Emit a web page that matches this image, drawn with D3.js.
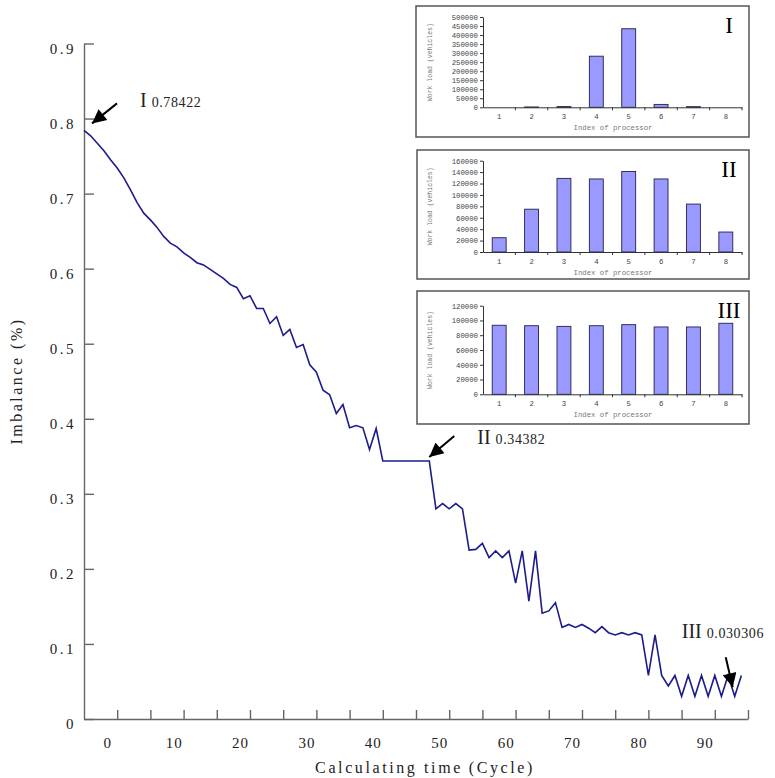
<!DOCTYPE html>
<html>
<head>
<meta charset="utf-8">
<script src="https://cdn.jsdelivr.net/npm/d3@7"></script>
<style>
  body { margin: 0; background: #fff; }
  svg { display: block; }
  text { font-family: "Liberation Serif", "DejaVu Serif", serif; fill: #222; }
  .mono { font-family: "Liberation Mono", "DejaVu Sans Mono", monospace; }
</style>
</head>
<body>
<svg id="chart" width="775" height="778"></svg>
<script>

// Imbalance of the load, one value per calculating cycle

const imbalance = [
  0.78422, 0.777, 0.767, 0.757, 0.745, 0.734, 0.721, 0.705, 0.688, 0.674,
  0.665, 0.655, 0.643, 0.634, 0.629, 0.621, 0.615, 0.608, 0.605, 0.599,
  0.593, 0.587, 0.579, 0.575, 0.560, 0.564, 0.547, 0.547, 0.527, 0.536,
  0.511, 0.519, 0.495, 0.499, 0.472, 0.462, 0.438, 0.432, 0.407, 0.419,
  0.388, 0.391, 0.388, 0.359, 0.387, 0.34382, 0.34382, 0.34382, 0.34382, 0.34382,
  0.34382, 0.34382, 0.34382, 0.280, 0.287, 0.280, 0.287, 0.280, 0.225, 0.226,
  0.234, 0.215, 0.224, 0.215, 0.224, 0.181, 0.224, 0.157, 0.224, 0.141,
  0.144, 0.155, 0.122, 0.126, 0.122, 0.126, 0.121, 0.115, 0.123, 0.115,
  0.112, 0.115, 0.112, 0.115, 0.112, 0.058, 0.112, 0.058, 0.044, 0.058,
  0.030306, 0.058, 0.030306, 0.058, 0.030306, 0.058, 0.030306, 0.058, 0.030306, 0.058
];

const yTicks = [0, 0.1, 0.2, 0.3, 0.4, 0.5, 0.6, 0.7, 0.8, 0.9];
const xTickLabels = [0, 10, 20, 30, 40, 50, 60, 70, 80, 90];

// The three marked moments
const markNames = ["I", "II", "III"];
const markIndex = [0, 52, 98];
const markText = ["0.78422", "0.34382", "0.030306"];

// Work load per processor at each marked moment
const processors = [1, 2, 3, 4, 5, 6, 7, 8];
const loadI = [0, 2000, 4000, 283000, 435000, 16000, 3500, 0];
const loadII = [25000, 75000, 129000, 128000, 141000, 128000, 84000, 35000];
const loadIII = [93500, 92900, 92000, 92900, 94300, 91200, 91200, 96200];
const ticksI = [0, 50000, 100000, 150000, 200000, 250000, 300000, 350000, 400000, 450000, 500000];
const ticksII = [0, 20000, 40000, 60000, 80000, 100000, 120000, 140000, 160000];
const ticksIII = [0, 20000, 40000, 60000, 80000, 100000, 120000];

const svg = d3.select("#chart");

const x = d3.scaleLinear().domain([0, 100]).range([84, 748]);
const xCycle = d3.scaleLinear().domain([-3.5, 96.5]).range([84, 748]);
const y = d3.scaleLinear().domain([0, 0.9]).range([719, 43.5]);

// Axes

const yAxisG = svg.append("g")
  .attr("transform", "translate(84,0)")
  .call(d3.axisRight(y).tickValues(yTicks).tickSize(10).tickSizeOuter(0).tickFormat(""));

const yLabelG = svg.append("g")
  .attr("transform", "translate(84,0)")
  .call(d3.axisLeft(y).tickValues(yTicks).tickSize(0).tickPadding(8)
    .tickFormat(d => d === 0 ? "0" : d3.format(".1f")(d)));
yLabelG.select(".domain").remove();
yLabelG.selectAll("text")
  .attr("dy", 9.5)
  .style("font-size", "15px")
  .style("letter-spacing", "2.5px");

const xAxisG = svg.append("g")
  .attr("transform", "translate(0,719)")
  .call(d3.axisTop(x).tickValues(d3.range(5, 101, 5)).tickSize(9).tickSizeOuter(0).tickFormat(""));

const xLabelG = svg.append("g")
  .attr("transform", "translate(0,719)")
  .call(d3.axisBottom(xCycle).tickValues(xTickLabels).tickSize(0));
xLabelG.select(".domain").remove();
xLabelG.selectAll("text")
  .attr("y", 29)
  .attr("dy", 0)
  .style("font-size", "15px")
  .style("letter-spacing", "1px");

svg.selectAll(".domain, .tick line")
  .attr("stroke", "#666")
  .attr("stroke-width", 1.4);

svg.append("text")
  .attr("transform", "translate(22,381) rotate(-90)")
  .attr("text-anchor", "middle")
  .style("font-size", "16px")
  .style("letter-spacing", "2.5px")
  .text("Imbalance (%)");

svg.append("text")
  .attr("x", 425)
  .attr("y", 773)
  .attr("text-anchor", "middle")
  .style("font-size", "16px")
  .style("letter-spacing", "2.6px")
  .text("Calculating time\u2009(Cycle)");

// The line

const line = d3.line()
  .x((d, i) => x(i))
  .y(d => y(d));

svg.append("path")
  .datum(imbalance)
  .attr("fill", "none")
  .attr("stroke", "#1c1c8c")
  .attr("stroke-width", 1.6)
  .attr("stroke-linejoin", "miter")
  .attr("d", line);

// Arrows pointing at the marked moments

svg.append("defs").append("marker")
  .attr("id", "head")
  .attr("viewBox", "0 0 10 10")
  .attr("refX", 10)
  .attr("refY", 5)
  .attr("markerWidth", 8)
  .attr("markerHeight", 7)
  .attr("markerUnits", "strokeWidth")
  .attr("orient", "auto")
  .append("path")
  .attr("d", "M0,0 L10,5 L0,10 Z")
  .attr("fill", "#000");

// arrow start / tip offsets and label spots, relative to the marked point
const arrowFrom = [[33, -27], [25, -25], [-9, -39]];
const arrowTo = [[8, -7], [0, -4], [-2, -9]];
const labelAt = [[56, -23], [48, -17], [-53, -58]];

markNames.forEach((name, k) => {

  const px = x(markIndex[k]);
  const py = y(imbalance[markIndex[k]]);

  svg.append("line")
    .attr("x1", px + arrowFrom[k][0])
    .attr("y1", py + arrowFrom[k][1])
    .attr("x2", px + arrowTo[k][0])
    .attr("y2", py + arrowTo[k][1])
    .attr("stroke", "#000")
    .attr("stroke-width", 2)
    .attr("marker-end", "url(#head)");

  const t = svg.append("text")
    .attr("x", px + labelAt[k][0])
    .attr("y", py + labelAt[k][1]);

  t.append("tspan")
    .style("font-size", "20px")
    .text(name);

  t.append("tspan")
    .attr("dx", 5)
    .style("font-size", "14px")
    .style("letter-spacing", "0.6px")
    .text(markText[k]);
});

// Inset bar charts

const insetBoxes = [
  {x: 416, y: 6, w: 333, h: 131, top: 17, bottom: 107.3},
  {x: 417, y: 150, w: 332, h: 129, top: 160.7, bottom: 252},
  {x: 417, y: 291, w: 332, h: 133, top: 305.7, bottom: 394.3}
];

function drawInset(box, loads, ticks, name) {

  const g = svg.append("g");

  g.append("rect")
    .attr("x", box.x)
    .attr("y", box.y)
    .attr("width", box.w)
    .attr("height", box.h)
    .attr("fill", "#fff")
    .attr("stroke", "#555")
    .attr("stroke-width", 1.5);

  const xb = d3.scaleBand()
    .domain(processors)
    .range([483, 742])
    .paddingInner(0.57)
    .paddingOuter(0.285);

  const yb = d3.scaleLinear()
    .domain([0, ticks[ticks.length - 1]])
    .range([box.bottom, box.top]);

  g.selectAll(".bar")
    .data(loads)
    .enter()
    .append("rect")
    .attr("x", (d, i) => xb(processors[i]))
    .attr("y", d => yb(d))
    .attr("width", xb.bandwidth())
    .attr("height", d => yb(0) - yb(d))
    .attr("fill", "#9999ff")
    .attr("stroke", "#22224a")
    .attr("stroke-width", 0.9);

  const ya = g.append("g")
    .attr("transform", "translate(483,0)")
    .call(d3.axisLeft(yb).tickValues(ticks).tickSize(3).tickSizeOuter(0).tickPadding(2)
      .tickFormat(d3.format("d")));
  ya.selectAll("text")
    .attr("class", "mono")
    .style("font-size", "7.3px")
    .style("fill", "#444");

  // x axis with ticks between the processors
  const xa = g.append("g")
    .attr("transform", "translate(0," + box.bottom + ")")
    .call(d3.axisBottom(xb).tickSize(0).tickPadding(7).tickSizeOuter(0));
  xa.selectAll("text")
    .attr("class", "mono")
    .style("font-size", "7.3px")
    .style("fill", "#444");

  xa.selectAll(".sep")
    .data(processors)
    .enter()
    .append("line")
    .attr("x1", d => xb(d) + xb.bandwidth() / 2 + xb.step() / 2)
    .attr("x2", d => xb(d) + xb.bandwidth() / 2 + xb.step() / 2)
    .attr("y1", 0)
    .attr("y2", 3)
    .attr("stroke", "#333");

  g.selectAll(".domain, .tick line")
    .attr("stroke", "#333")
    .attr("stroke-width", 1);

  g.append("text")
    .attr("class", "mono")
    .attr("transform", "translate(432," + (box.top + box.bottom) / 2 + ") rotate(-90)")
    .attr("text-anchor", "middle")
    .style("font-size", "6.5px")
    .style("fill", "#777")
    .text("Work load (vehicles)");

  g.append("text")
    .attr("class", "mono")
    .attr("x", 613)
    .attr("y", box.bottom + 23)
    .attr("text-anchor", "middle")
    .style("font-size", "7.3px")
    .style("fill", "#777")
    .text("Index of processor");

  g.append("text")
    .attr("x", 729)
    .attr("y", box.y + 27)
    .attr("text-anchor", "middle")
    .style("font-size", "23px")
    .style("fill", "#000")
    .text(name);
}

drawInset(insetBoxes[0], loadI, ticksI, markNames[0]);
drawInset(insetBoxes[1], loadII, ticksII, markNames[1]);
drawInset(insetBoxes[2], loadIII, ticksIII, markNames[2]);

</script>
</body>
</html>
